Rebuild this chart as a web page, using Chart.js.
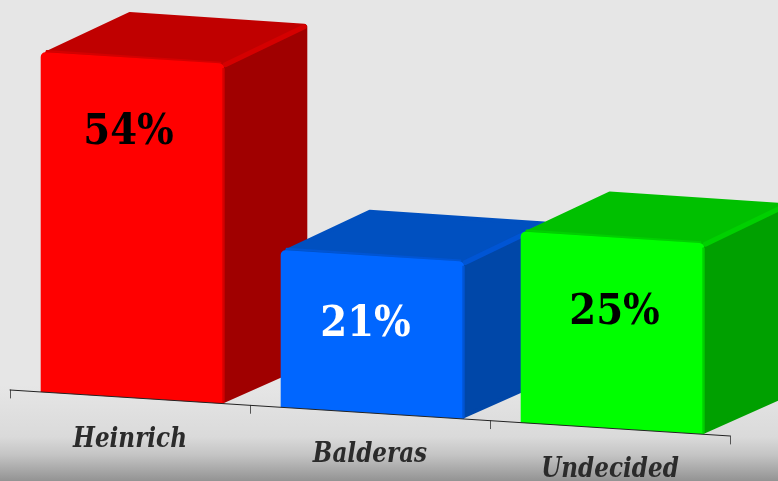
<!DOCTYPE html>
<html>
<head>
<meta charset="utf-8">
<title>Poll</title>
<style>
  html, body { margin: 0; padding: 0; width: 778px; height: 481px; overflow: hidden; }
  body { background: linear-gradient(to bottom, #e6e6e6 0, #e6e6e6 385px, #dadada 437px, #c4c4c4 455px, #939393 481px); }
  canvas { display: block; }
</style>
<script src="https://cdn.jsdelivr.net/npm/chart.js@4/dist/chart.umd.min.js"></script>
</head>
<body>
<canvas id="chart" width="778" height="481"></canvas>
<script>
const categories = ['Heinrich', 'Balderas', 'Undecided'];
const percentValues = [54, 21, 25];

const frontColors = ['#ff0000', '#0066ff', '#00ff00'];
const topColors = ['#c00000', '#0050c0', '#00c000'];
const sideColors = ['#a00000', '#0047a8', '#00a000'];
const edgeColors = ['#d40000', '#0055d4', '#00d000'];
const labelColors = ['#000000', '#ffffff', '#000000'];
// label position relative to the top centre of each front face
const labelNudgeX = [-4, -7, 2];
const labelNudgeY = [86, 80, 87];

const SLOPE = 46 / 720;      // the floor runs downhill to the right
const BACK_LEFT = [89, -40];
const BACK_RIGHT = [83, -40];
const AXIS_SHIFT = 2.5;      // bars sit a little right of the tick bands

function shearY(area, x, y) {
    return y + SLOPE * (x - (area.left - AXIS_SHIFT));
}

function polygon(ctx, pts, color) {
    ctx.beginPath();
    pts.forEach((p, i) => i ? ctx.lineTo(p[0], p[1]) : ctx.moveTo(p[0], p[1]));
    ctx.closePath();
    ctx.fillStyle = color;
    ctx.fill();
    ctx.lineJoin = 'round';
    ctx.lineWidth = 4;
    ctx.strokeStyle = color;
    ctx.stroke();
}

function edge(ctx, a, b, color, width) {
    ctx.beginPath();
    ctx.moveTo(a[0], a[1]);
    ctx.lineTo(b[0], b[1]);
    ctx.strokeStyle = color;
    ctx.lineWidth = width;
    ctx.lineCap = 'round';
    ctx.stroke();
}

// DejaVu Serif is wider than the picture's face, so squeeze it a bit
function squeezedText(ctx, text, x, y, squeeze) {
    ctx.save();
    ctx.translate(x, y);
    ctx.scale(squeeze, 1);
    ctx.fillText(text, 0, 0);
    ctx.restore();
}

// draws the library's bars on a sheared floor and adds the top and side faces
const box3d = {
    id: 'box3d',
    beforeDatasetsDraw(chart) {
        const ctx = chart.ctx;
        const area = chart.chartArea;
        chart.getDatasetMeta(0).data.forEach((bar, i) => {
            const l = bar.x - bar.width / 2;
            const r = bar.x + bar.width / 2;
            const fl = [l, shearY(area, l, bar.y)];
            const fr = [r, shearY(area, r, bar.y)];
            const br = [r, shearY(area, r, bar.base)];
            const bl = [l + BACK_LEFT[0], fl[1] + BACK_LEFT[1]];
            const tr = [r + BACK_RIGHT[0], fr[1] + BACK_RIGHT[1]];
            const sb = [r + BACK_RIGHT[0], br[1] + BACK_RIGHT[1]];

            polygon(ctx, [[fr[0], fr[1] + 2], [tr[0] - 2, tr[1] + 3], [sb[0] - 2, sb[1] + 1], [br[0], br[1] - 3]], sideColors[i]);
            polygon(ctx, [[fl[0] + 6, fl[1] + 1], [bl[0], bl[1] + 2], [tr[0] - 3, tr[1] + 2], [fr[0] - 1, fr[1] + 1]], topColors[i]);
            edge(ctx, [fr[0] + 1, fr[1] + 1], [tr[0] - 3, tr[1] + 3], edgeColors[i], 5);
            edge(ctx, [fl[0] + 6, fl[1] - 1], [fr[0] - 4, fr[1] - 1], edgeColors[i], 2);

            ctx.save();
            ctx.transform(1, SLOPE, 0, 1, 0, -SLOPE * (area.left - AXIS_SHIFT));
            bar.draw(ctx);
            ctx.restore();
            edge(ctx, [r - 1, fr[1] + 5], [r - 1, br[1] - 2], edgeColors[i], 2);
        });
        return false;
    },
    afterDraw(chart) {
        const ctx = chart.ctx;
        const area = chart.chartArea;
        const x = chart.scales.x;

        // slanted axis line with a tick at each band edge
        const ax0 = area.left - AXIS_SHIFT;
        const ax1 = area.right - AXIS_SHIFT;
        ctx.save();
        ctx.lineWidth = 1;
        ctx.strokeStyle = '#555555';
        ctx.beginPath();
        for (let i = 0; i <= categories.length; i++) {
            const tx = ax0 + (ax1 - ax0) * i / categories.length;
            const ty = shearY(area, tx, area.bottom);
            ctx.moveTo(Math.round(tx) + 0.5, ty);
            ctx.lineTo(Math.round(tx) + 0.5, ty + 8);
        }
        ctx.stroke();
        ctx.strokeStyle = '#222222';
        ctx.beginPath();
        ctx.moveTo(ax0, shearY(area, ax0, area.bottom));
        ctx.lineTo(ax1, shearY(area, ax1, area.bottom));
        ctx.stroke();

        // category names
        ctx.textAlign = 'center';
        ctx.textBaseline = 'alphabetic';
        ctx.font = 'italic bold 27.5px "DejaVu Serif"';
        ctx.fillStyle = '#2b2b2b';
        categories.forEach((name, i) => {
            const cx = x.getPixelForValue(i) - AXIS_SHIFT;
            squeezedText(ctx, name, cx, shearY(area, cx, area.bottom) + 49, 0.84);
        });

        // values on the front faces
        ctx.font = 'bold 42px "DejaVu Serif"';
        chart.getDatasetMeta(0).data.forEach((bar, i) => {
            ctx.fillStyle = labelColors[i];
            squeezedText(ctx, percentValues[i] + '%', bar.x + labelNudgeX[i], shearY(area, bar.x, bar.y) + labelNudgeY[i], 0.92);
        });
        ctx.restore();
    }
};

new Chart(document.getElementById('chart'), {
    type: 'bar',
    data: {
        labels: categories,
        datasets: [{
            data: percentValues,
            backgroundColor: frontColors,
            borderRadius: { topLeft: 5, topRight: 5, bottomLeft: 0, bottomRight: 0 },
            borderSkipped: false,
            barPercentage: 0.765,
            categoryPercentage: 1
        }]
    },
    options: {
        responsive: false,
        animation: false,
        layout: { padding: { left: 12.5, right: 45.5, top: 50, bottom: 91 } },
        plugins: { legend: { display: false }, tooltip: { enabled: false } },
        scales: {
            x: { display: false },
            // the drawn heights in the picture are not proportional; a hidden log axis fits them
            y: { display: false, type: 'logarithmic', min: 9.3, max: 54 }
        }
    },
    plugins: [box3d]
});
</script>
</body>
</html>
